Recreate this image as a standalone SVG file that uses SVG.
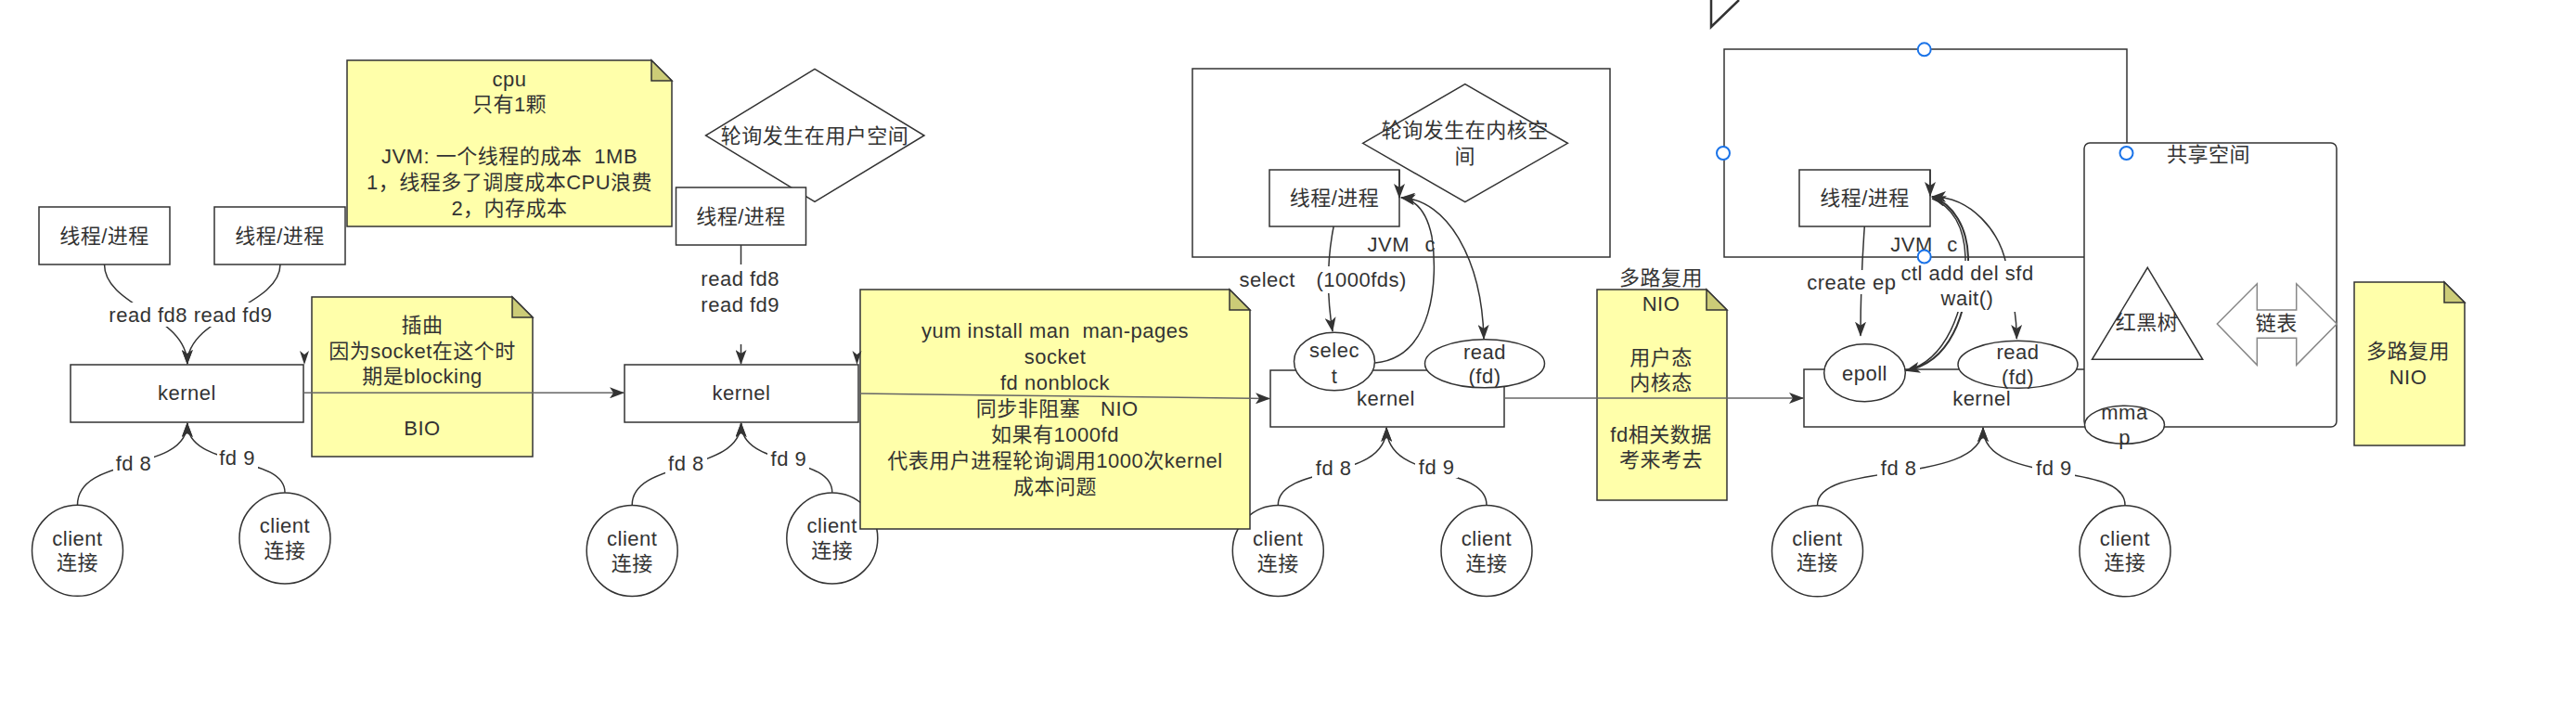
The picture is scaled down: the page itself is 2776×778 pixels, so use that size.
<svg xmlns="http://www.w3.org/2000/svg" width="2776" height="778" viewBox="0 0 2776 778">
<defs>
<marker id="arr" markerUnits="userSpaceOnUse" markerWidth="16" markerHeight="12" viewBox="0 0 16 12" refX="15" refY="6" orient="auto-start-reverse"><path d="M0,0 L16,6 L0,12 L4,6 Z" fill="#333"/></marker>
<style>
.t{font-family:"Liberation Sans","Noto Sans CJK SC",sans-serif;font-size:22px;letter-spacing:0.5px;fill:#333;text-anchor:middle;dominant-baseline:central}
.s{text-anchor:start}
.box{fill:#fff;stroke:#333;stroke-width:1.5}
.note{fill:#ffffaa;stroke:#333;stroke-width:1.5}
.fold{fill:#cccc77;stroke:#333;stroke-width:1.5}
.edge{fill:none;stroke:#333;stroke-width:1.5}
.thick{stroke-width:2}
.gline{fill:none;stroke:#666;stroke-width:1.5}
.bg{fill:#fff}
.h{fill:#fff;stroke:#1a73e8;stroke-width:2}
.ah{fill:#333}
</style>
</defs>
<rect width="2776" height="778" fill="#fff"/>

<!-- containers -->
<g id="kernel-space-box"><rect class="box" x="1285" y="74" width="450" height="203"/></g>
<g id="user-space-box"><rect class="box" x="1858" y="53" width="434" height="224"/></g>
<g id="corner-shape"><path d="M1844,0 V29 L1874,0" fill="none" stroke="#333" stroke-width="2.5"/></g>

<!-- diamonds -->
<g id="diamond-user"><path class="box" d="M760.6,146 L878,74.3 L996,146 L878,217.3 Z"/><text class="t" x="878" y="146.7">轮询发生在用户空间</text></g>
<g id="diamond-kernel"><path class="box" d="M1468.6,154.3 L1578.8,90.7 L1689.4,154.3 L1578.8,217.7 Z"/><text class="t" x="1578.8" y="140">轮询发生在内核空</text><text class="t" x="1578.8" y="168.3">间</text></g>

<!-- thread boxes -->
<g id="thread1"><rect class="box" x="42" y="223" width="141" height="62"/><text class="t" x="112.5" y="254">线程/进程</text></g>
<g id="thread2"><rect class="box" x="231" y="223" width="141" height="62"/><text class="t" x="301.5" y="254">线程/进程</text></g>
<g id="thread3"><rect class="box" x="728.5" y="202" width="140" height="62"/><text class="t" x="798.5" y="233">线程/进程</text></g>
<g id="thread4"><rect class="box" x="1368" y="183" width="140" height="61"/><text class="t" x="1438" y="213.3">线程/进程</text></g>
<g id="thread5"><rect class="box" x="1939" y="183" width="141" height="61"/><text class="t" x="2009.5" y="213.3">线程/进程</text></g>

<!-- kernels -->
<g id="kernel1"><rect class="box" x="76" y="393" width="251" height="62"/><text class="t" x="201.5" y="423.5">kernel</text></g>
<g id="kernel2"><rect class="box" x="673" y="393" width="252" height="62"/><text class="t" x="799" y="423.5">kernel</text></g>
<g id="kernel3"><rect class="box" x="1369" y="399" width="252" height="61"/><text class="t" x="1493.4" y="429">kernel</text></g>
<g id="kernel4"><rect class="box" x="1944" y="398" width="383" height="62"/><text class="t" x="2135.6" y="429">kernel</text></g>

<!-- ellipses on kernels -->
<g id="select"><ellipse class="box" cx="1438" cy="389.5" rx="43.5" ry="31.2"/><text class="t" x="1438" y="377.7">selec</text><text class="t" x="1438" y="405">t</text></g>
<g id="read3"><ellipse class="box" cx="1600" cy="391.8" rx="64.5" ry="26"/><text class="t" x="1600" y="379.3">read</text><text class="t" x="1600" y="405">(fd)</text></g>
<g id="epoll"><ellipse class="box" cx="2009.5" cy="401.7" rx="43.8" ry="31"/><text class="t" x="2009.5" y="402.3">epoll</text></g>
<g id="read4"><ellipse class="box" cx="2174.5" cy="392.8" rx="64.5" ry="25.5"/><text class="t" x="2174.5" y="379.3">read</text><text class="t" x="2174.5" y="406.7">(fd)</text></g>

<!-- clients -->
<g id="client1a"><circle class="box" cx="83.5" cy="593.3" r="49"/><text class="t" x="83.5" y="580">client</text><text class="t" x="83.5" y="606.7">连接</text></g>
<g id="client1b"><circle class="box" cx="307" cy="580" r="49"/><text class="t" x="307" y="566">client</text><text class="t" x="307" y="593">连接</text></g>
<g id="client2a"><circle class="box" cx="681.2" cy="593.5" r="49"/><text class="t" x="681.2" y="580">client</text><text class="t" x="681.2" y="607.7">连接</text></g>
<g id="client2b"><circle class="box" cx="896.8" cy="580" r="49"/><text class="t" x="896.8" y="566">client</text><text class="t" x="896.8" y="593.3">连接</text></g>
<g id="client3a"><circle class="box" cx="1377.3" cy="593.5" r="49"/><text class="t" x="1377.3" y="580">client</text><text class="t" x="1377.3" y="607.7">连接</text></g>
<g id="client3b"><circle class="box" cx="1602" cy="593.5" r="49"/><text class="t" x="1602" y="580">client</text><text class="t" x="1602" y="607.7">连接</text></g>
<g id="client4a"><circle class="box" cx="1958.5" cy="593.8" r="49"/><text class="t" x="1958.5" y="580">client</text><text class="t" x="1958.5" y="606.7">连接</text></g>
<g id="client4b"><circle class="box" cx="2290" cy="593.8" r="49"/><text class="t" x="2290" y="580">client</text><text class="t" x="2290" y="606.7">连接</text></g>

<!-- notes -->
<g id="note-cpu"><path class="note" d="M374,65 H702 L724,87 V244 H374 Z"/><path class="fold" d="M702,65 V87 H724 Z"/>
<text class="t" x="549" y="85">cpu</text><text class="t" x="549" y="112.7">只有1颗</text><text class="t" x="549" y="168.3" xml:space="preserve">JVM: 一个线程的成本  1MB</text><text class="t" x="549" y="196.5">1，线程多了调度成本CPU浪费</text><text class="t" x="549" y="224">2，内存成本</text></g>
<g id="note-bio"><path class="note" d="M336,320 H552 L574,342 V492 H336 Z"/><path class="fold" d="M552,320 V342 H574 Z"/>
<text class="t" x="455" y="350">插曲</text><text class="t" x="455" y="378">因为socket在这个时</text><text class="t" x="455" y="405.5">期是blocking</text><text class="t" x="455" y="461">BIO</text></g>
<g id="note-nonblock"><path class="note" d="M927,312 H1325 L1347,334 V570 H927 Z"/><path class="fold" d="M1325,312 V334 H1347 Z"/>
<text class="t" x="1137" y="356.7" xml:space="preserve">yum install man  man-pages</text><text class="t" x="1137" y="384.3">socket</text><text class="t" x="1137" y="412.3">fd nonblock</text><text class="t s" x="1051.7" y="440">同步非阻塞</text><text class="t s" x="1186" y="440">NIO</text><text class="t" x="1137" y="468.3">如果有1000fd</text><text class="t" x="1137" y="496">代表用户进程轮询调用1000次kernel</text><text class="t" x="1137" y="524.3">成本问题</text></g>
<g id="note-nio"><path class="note" d="M1721,312 H1839 L1861,334 V539 H1721 Z"/><path class="fold" d="M1839,312 V334 H1861 Z"/>
<text class="t" x="1790" y="299.3">多路复用</text><text class="t" x="1790" y="327.7">NIO</text><text class="t" x="1790" y="385">用户态</text><text class="t" x="1790" y="412.7">内核态</text><text class="t" x="1790" y="468.3">fd相关数据</text><text class="t" x="1790" y="495.7">考来考去</text></g>
<g id="note-mux"><path class="note" d="M2537,304 H2634 L2656,326 V480 H2537 Z"/><path class="fold" d="M2634,304 V326 H2656 Z"/>
<text class="t" x="2595" y="378.3">多路复用</text><text class="t" x="2595" y="406">NIO</text></g>

<!-- shared space -->
<g id="shared-space"><rect class="box" x="2246" y="154" width="272" height="306" rx="6"/><text class="t" x="2380" y="166.7">共享空间</text></g>
<g id="rbtree"><path class="box" d="M2314.3,288.3 L2373.7,387.3 L2254.5,387.3 Z"/><text class="t" x="2313.5" y="347.5">红黑树</text></g>
<g id="linked-list"><path d="M2389.3,349 L2432.3,305.7 V334 H2474.7 V305.7 L2518.3,349 L2474.7,393.3 V364.3 H2432.3 V393.3 Z" fill="#fff" stroke="#888" stroke-width="1.5"/><text class="t" x="2453.3" y="348.3">链表</text></g>
<g id="mmap"><ellipse class="box" cx="2289.5" cy="457.8" rx="43" ry="20.5"/><text class="t" x="2289.5" y="444">mma</text><text class="t" x="2289.5" y="471.7">p</text></g>

<!-- connectors -->
<g id="connectors">
<path class="edge" d="M112.5,285 C112.5,330 201.8,340 201.8,392" marker-end="url(#arr)"/>
<path class="edge" d="M302,285 C302,330 201.8,340 201.8,392" marker-end="url(#arr)"/>
<rect class="bg" x="110" y="326" width="192" height="26"/>
<text class="t" x="205.4" y="339">read fd8 read fd9</text>

<path class="edge" d="M83.5,544 C83.5,490 201.8,510 201.8,456" marker-end="url(#arr)"/>
<path class="edge" d="M307,530.7 C307,490 201.8,505 201.8,456" marker-end="url(#arr)"/>
<rect class="bg" x="122" y="487" width="44" height="24"/><text class="t" x="144" y="499">fd 8</text>
<rect class="bg" x="234" y="481" width="44" height="24"/><text class="t" x="255.6" y="493.3">fd 9</text>

<path class="gline" d="M327,423.3 L672,423.3" marker-end="url(#arr)"/>
<path class="ah" d="M323,378 L328,393 L333,378 L328,382 Z"/>
<path class="ah" d="M918.5,378 L923.5,393 L928.5,378 L923.5,382 Z"/>

<path class="edge" d="M798.5,264 L798.5,392" marker-end="url(#arr)"/>
<rect class="bg" x="753" y="285" width="92" height="86"/>
<text class="t" x="797.7" y="300.7">read fd8</text><text class="t" x="797.7" y="328.3">read fd9</text>

<path class="edge" d="M681.2,544 C681.2,495 798.6,510 798.6,456" marker-end="url(#arr)"/>
<path class="edge" d="M896.8,530.7 C896.8,490 798.6,505 798.6,456" marker-end="url(#arr)"/>
<rect class="bg" x="717" y="487" width="45" height="24"/><text class="t" x="739.4" y="499">fd 8</text>
<rect class="bg" x="827" y="482" width="45" height="24"/><text class="t" x="849.9" y="494">fd 9</text>

<path class="gline" d="M925,424 L1368,429.5" marker-end="url(#arr)"/>

<path class="edge" d="M1437.2,244 C1430,280 1430,320 1436,357" marker-end="url(#arr)"/>
<rect class="bg" x="1332" y="287" width="188" height="29"/>
<text class="t" x="1365.7" y="301.7">select</text><text class="t" x="1467.2" y="301.7">(1000fds)</text>
<path class="edge" d="M1482,391 C1545,385 1550,300 1543,255 C1538,230 1528,216 1510,213" marker-end="url(#arr)"/>
<path class="edge" d="M1510,213 C1560,215 1597,280 1599,365" marker-start="url(#arr)" marker-end="url(#arr)"/>
<path class="edge" d="M1508,183 L1508,213" marker-end="url(#arr)"/>
<text class="t s" x="1473.5" y="263.3">JVM</text><text class="t s" x="1535.5" y="263.3">c</text>

<path class="edge" d="M1377.3,544.3 C1377.3,500 1494.2,520 1494.2,461" marker-end="url(#arr)"/>
<path class="edge" d="M1602,544.3 C1602,500 1494.2,520 1494.2,461" marker-end="url(#arr)"/>
<rect class="bg" x="1414" y="492" width="46" height="24"/><text class="t" x="1437.2" y="504.3">fd 8</text>
<rect class="bg" x="1525" y="491" width="46" height="24"/><text class="t" x="1548.2" y="503.3">fd 9</text>

<path class="gline" d="M1621,429 L1943,429" marker-end="url(#arr)"/>

<path class="edge" d="M2009.3,244 C2006,290 2005,320 2005,361.7" marker-end="url(#arr)"/>
<path class="edge thick" d="M2053.3,399.3 C2100,392 2122,340 2121,277 C2120,245 2105,220 2082,212" marker-end="url(#arr)"/>
<path class="edge" d="M2082,214 C2104,222 2117,245 2118,277 C2119,335 2096,389 2054,399.5" marker-end="url(#arr)"/>
<path class="edge" d="M2082,212 C2125,212 2155,250 2162,285 C2168,315 2173,335 2173.3,365" marker-start="url(#arr)" marker-end="url(#arr)"/>
<path class="edge" d="M2080,183 L2080,211" marker-end="url(#arr)"/>
<rect class="bg" x="1944" y="291" width="100" height="26"/><text class="t" x="1995.3" y="304">create ep</text>
<rect class="bg" x="2044" y="281" width="154" height="55"/><text class="t" x="2120" y="294">ctl add del sfd</text><text class="t" x="2120" y="321.7">wait()</text>
<text class="t s" x="2037.3" y="263.3">JVM</text><text class="t s" x="2098.3" y="263.3">c</text>

<path class="edge" d="M1958.5,544.3 C1958.5,495 2137,525 2137,461" marker-end="url(#arr)"/>
<path class="edge" d="M2290,544.3 C2290,495 2137,525 2137,461" marker-end="url(#arr)"/>
<rect class="bg" x="2023" y="492" width="46" height="24"/><text class="t" x="2046.2" y="504">fd 8</text>
<rect class="bg" x="2190" y="492" width="46" height="24"/><text class="t" x="2213.4" y="504">fd 9</text>
</g>

<g id="handles">
<circle class="h" cx="2073.7" cy="53.3" r="7"/>
<circle class="h" cx="1857" cy="165" r="7"/>
<circle class="h" cx="2073.7" cy="276.5" r="7"/>
<circle class="h" cx="2291.5" cy="165" r="7"/>
</g>
</svg>
